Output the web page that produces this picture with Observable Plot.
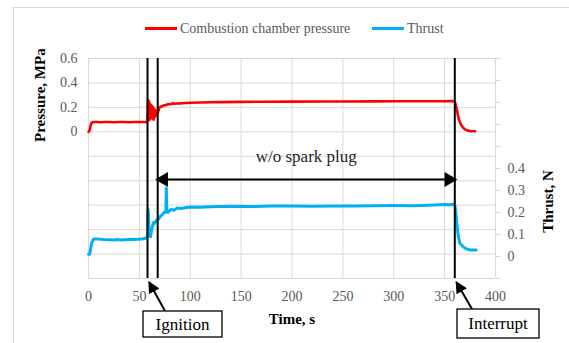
<!DOCTYPE html>
<html><head><meta charset="utf-8">
<script src="https://cdn.jsdelivr.net/npm/d3@7"></script>
<script src="https://cdn.jsdelivr.net/npm/@observablehq/plot@0.6"></script>
<style>
html,body{margin:0;padding:0;background:#fff;}
#wrap{position:relative;width:569px;height:343px;overflow:hidden;font-family:"Liberation Serif","Times New Roman",serif;}
#wrap svg{position:absolute;left:0;top:0;}
#wrap svg text{font-family:"Liberation Serif","Times New Roman",serif;}
.frame{position:absolute;left:13px;top:7px;width:600px;height:400px;border-left:1px solid #d9d9d9;border-top:1px solid #d9d9d9;}
.leg{position:absolute;top:20px;font-size:14px;color:#595959;white-space:nowrap;line-height:18px;}
.leg span.sw{display:inline-block;width:32px;height:3px;vertical-align:middle;margin-right:3px;position:relative;top:-1px;}
</style></head>
<body><div id="wrap"><div class="frame"></div></div>
<script>
// ---- data ----
const pressureT = [0,1,2,3,5,8,12,16,20,25,30,35,40,45,50,54,57,58,58.5,59,59.5,60,60.5,61,61.5,62,62.5,63,63.5,64,64.5,65,65.5,66,66.5,67,68,69,70,71,72,74,76,78,80,82,83,84,86,90,95,100,110,120,130,150,170,200,230,250,280,300,330,350,355,359,360,361,362,363,364,366,368,370,373,376,380];
const pressureV = [0,0.01,0.05,0.075,0.08,0.081,0.079,0.08,0.081,0.079,0.08,0.08,0.079,0.08,0.08,0.081,0.08,0.09,0.26,0.12,0.25,0.1,0.23,0.11,0.22,0.12,0.21,0.11,0.2,0.1,0.19,0.12,0.18,0.13,0.17,0.15,0.155,0.18,0.2,0.205,0.21,0.215,0.22,0.225,0.226,0.228,0.236,0.229,0.232,0.233,0.236,0.238,0.24,0.242,0.243,0.245,0.246,0.247,0.248,0.248,0.249,0.25,0.25,0.25,0.251,0.25,0.245,0.22,0.18,0.14,0.1,0.06,0.035,0.02,0.01,0.005,0.005];
const thrustT = [0,1,2,3,4.6,6,10,15,20,25,28,32,36,40,44,48,52,55,57,58,58.5,59,59.5,60,61,62,63,64,65,66,67.5,69,70,72.6,74,75,76,76.5,77,78,81,84,87,90,95,100,110,120,140,160,180,200,220,240,260,280,300,320,340,350,355,359,360,361,362,363.5,365,368,371,375,378,381];
const thrustV = [0.01,0.01,0.03,0.06,0.077,0.08,0.079,0.077,0.076,0.075,0.077,0.075,0.076,0.077,0.077,0.078,0.08,0.082,0.085,0.09,0.214,0.19,0.12,0.1,0.09,0.12,0.14,0.155,0.15,0.16,0.168,0.17,0.18,0.19,0.2,0.2,0.205,0.31,0.205,0.2,0.214,0.21,0.22,0.218,0.222,0.225,0.224,0.226,0.228,0.227,0.229,0.229,0.228,0.23,0.229,0.231,0.232,0.231,0.234,0.236,0.235,0.237,0.234,0.2,0.15,0.09,0.06,0.045,0.035,0.03,0.03,0.03];
const xTicks = [0,50,100,150,200,250,300,350,400];
const pressureTicks = [0,0.2,0.4,0.6];
const pressureGrid = [-1.2,-1,-0.8,-0.6,-0.4,-0.2,0,0.2,0.4,0.6];
const thrustTicks = [0,0.1,0.2,0.3,0.4];
const thrustTickMarks = [-0.1,0,0.1,0.2,0.3,0.4,0.5,0.6,0.7,0.8,0.9];
const ignitionT = [58,68];
const interruptT = [360];
const noSparkArrow = [{x1:68, x2:360, y:0.35}];
const noSparkLabel = [{x:214, y:0.455, text:"w/o spark plug"}];
const seriesNames = ["Combustion chamber pressure","Thrust"];
const seriesColors = ["#ff0000","#00b0f0"];

const pressureData = pressureT.map((t,i)=>({t, v:pressureV[i]}));
const thrustData = thrustT.map((t,i)=>({t, v:thrustV[i]}));

const W=569,H=343, mL=88, mR=74, mT=58, mB=65;
const font = "Liberation Serif, Times New Roman, serif";
const common = {width:W,height:H,marginLeft:mL,marginRight:mR,marginTop:mT,marginBottom:mB,
  style:{fontFamily:font,background:"transparent",overflow:"visible"}};

const p1 = Plot.plot({...common,
  x:{domain:[0,400]},
  y:{domain:[-1.2,0.6]},
  marks:[
    Plot.gridX(xTicks,{stroke:"#d9d9d9",strokeOpacity:1}),
    Plot.gridY(pressureGrid,{stroke:"#d9d9d9",strokeOpacity:1}),
    Plot.axisX(xTicks,{tickSize:0,tickPadding:13,fontSize:14,fontFamily:font,fill:"#595959",label:null,tickFormat:d=>String(d)}),
    Plot.axisY(pressureTicks,{tickSize:0,tickPadding:11,fontSize:14,fontFamily:font,fill:"#595959",label:null,tickFormat:d=>String(d)}),
    Plot.line(pressureData,{x:"t",y:"v",stroke:seriesColors[0],strokeWidth:2.6}),
    Plot.text(["Pressure, MPa"],{frameAnchor:"left",textAnchor:"middle",dx:-48,y:0.3,rotate:-90,fontSize:15,fontFamily:font,fontWeight:"bold",fill:"#000"}),
    Plot.text(["Time, s"],{x:200,frameAnchor:"bottom",dy:45,fontSize:15,fontFamily:font,fontWeight:"bold",fill:"#000"})
  ]});

const p2 = Plot.plot({...common,
  x:{domain:[0,400],axis:null},
  y:{domain:[-0.1,0.9],axis:null},
  marks:[
    Plot.ruleX([400],{stroke:"#d9d9d9"}),
    Plot.axisY(thrustTickMarks,{anchor:"right",tickSize:4,stroke:"#d9d9d9",tickFormat:()=>"",label:null}),
    Plot.axisY(thrustTicks,{anchor:"right",tickSize:0,tickPadding:12,fontSize:14,fontFamily:font,fill:"#595959",label:null,tickFormat:d=>String(d)}),
    Plot.line(thrustData,{x:"t",y:"v",stroke:seriesColors[1],strokeWidth:3}),
    Plot.ruleX(ignitionT,{stroke:"#000",strokeWidth:2}),
    Plot.ruleX(interruptT,{stroke:"#000",strokeWidth:2}),
    Plot.link(noSparkArrow,{x1:"x1",x2:"x2",y1:"y",y2:"y",stroke:"#000",strokeWidth:2,insetStart:4,insetEnd:4}),
    Plot.dot(noSparkArrow,{x:"x1",y:"y",dx:6,rotate:-90,symbol:"triangle",r:5.5,fill:"#000",stroke:null}),
    Plot.dot(noSparkArrow,{x:"x2",y:"y",dx:-6,rotate:90,symbol:"triangle",r:5.5,fill:"#000",stroke:null}),
    Plot.text(noSparkLabel,{x:"x",y:"y",text:"text",fontSize:17,fontFamily:font,fill:"#262626"}),
    Plot.text(["Thrust, N"],{frameAnchor:"right",textAnchor:"middle",dx:53,y:0.25,rotate:-90,fontSize:15,fontFamily:font,fontWeight:"bold",fill:"#000"})
  ]});

const wrap = document.getElementById("wrap");
wrap.appendChild(p1);
wrap.appendChild(p2);

// callout boxes, positioned with the plot's x scale
const xs = p2.scale("x");
const svg = d3.select(p2);
const callouts = [
  {label:"Ignition", t:ignitionT[0], boxL:143, boxR:222, boxT:311, boxB:337, ax:165},
  {label:"Interrupt", t:interruptT[0], boxL:457, boxR:539, boxT:309, boxB:338, ax:472}
];
const defs = svg.append("defs");
defs.append("marker").attr("id","ah").attr("viewBox","0 0 10 10").attr("refX",9).attr("refY",5)
  .attr("markerWidth",6).attr("markerHeight",6).attr("orient","auto")
  .append("path").attr("d","M0,0L10,5L0,10z").attr("fill","#000");
callouts.forEach(c=>{
  const lx = xs.apply(c.t);
  svg.append("line").attr("x1",c.ax).attr("y1",c.boxT).attr("x2",lx+2).attr("y2",H-mB+4)
    .attr("stroke","#000").attr("stroke-width",2).attr("marker-end","url(#ah)");
  svg.append("rect").attr("x",c.boxL).attr("y",c.boxT).attr("width",c.boxR-c.boxL).attr("height",c.boxB-c.boxT)
    .attr("fill","#fff").attr("stroke","#000").attr("stroke-width",1.3);
  svg.append("text").attr("x",(c.boxL+c.boxR)/2).attr("y",(c.boxT+c.boxB)/2).attr("dy","0.35em")
    .attr("text-anchor","middle").attr("font-size",17).attr("font-family",font).attr("fill","#000").text(c.label);
});

// legend
const legPos = [145,372];
seriesNames.forEach((n,i)=>{
  const d = document.createElement("div");
  d.className="leg"; d.style.left=legPos[i]+"px";
  d.innerHTML = `<span class="sw" style="background:${seriesColors[i]}"></span>${n}`;
  wrap.appendChild(d);
});
</script></body></html>
